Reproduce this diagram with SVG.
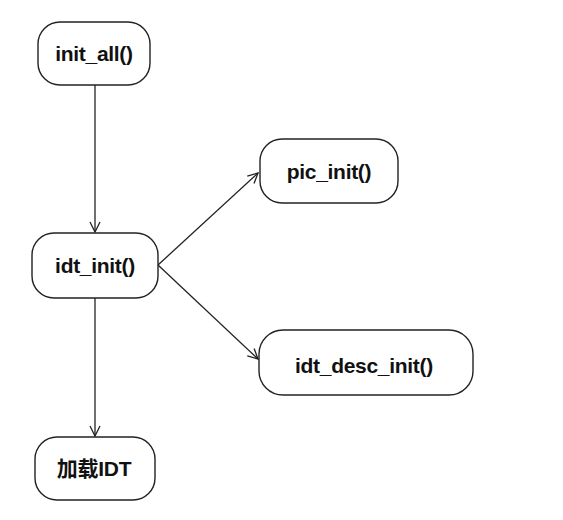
<svg xmlns="http://www.w3.org/2000/svg" width="563" height="520" viewBox="0 0 563 520">
<style>
.n{fill:#fff;stroke:#222;stroke-width:1.4}
.t{font-family:"Liberation Sans","Noto Sans CJK SC",Arial,sans-serif;font-weight:bold;font-size:21px;letter-spacing:-0.3px;fill:#111;text-anchor:middle}
.c{fill:none;stroke:#222;stroke-width:1.3}
</style>
<defs>
<marker id="a" viewBox="0 0 12 12" refX="11" refY="6" markerWidth="12" markerHeight="12" markerUnits="userSpaceOnUse" orient="auto">
<path d="M1,1 L11,6 L1,11" fill="none" stroke="#222" stroke-width="1.3"/>
</marker>
</defs>
<rect width="563" height="520" fill="#fff"/>
<g id="connectors">
<line class="c" x1="95" y1="85" x2="95" y2="232" marker-end="url(#a)"/>
<line class="c" x1="95" y1="298" x2="95" y2="436" marker-end="url(#a)"/>
<line class="c" x1="158" y1="265" x2="258" y2="173" marker-end="url(#a)"/>
<line class="c" x1="158" y1="265" x2="258" y2="359" marker-end="url(#a)"/>
</g>
<g id="init_all">
<rect class="n" x="38" y="22" width="112" height="63" rx="22"/>
<text class="t" x="94" y="61">init_all()</text>
</g>
<g id="idt_init">
<rect class="n" x="32" y="233" width="126" height="65" rx="22"/>
<text class="t" x="95" y="273">idt_init()</text>
</g>
<g id="pic_init">
<rect class="n" x="260" y="139" width="138" height="64" rx="22"/>
<text class="t" x="329" y="179">pic_init()</text>
</g>
<g id="idt_desc_init">
<rect class="n" x="259" y="330" width="214" height="65" rx="24"/>
<text class="t" x="364" y="373">idt_desc_init()</text>
</g>
<g id="load_idt">
<rect class="n" x="35" y="437" width="120" height="63" rx="22"/>
<text class="t" x="94" y="476">加载IDT</text>
</g>
</svg>
